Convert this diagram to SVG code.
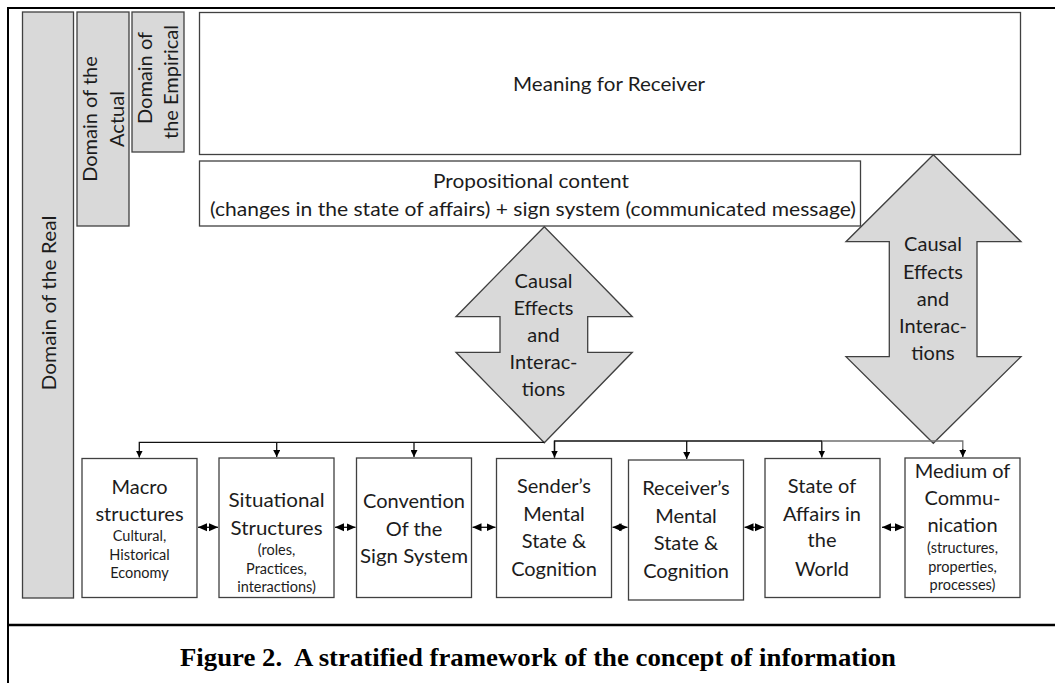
<svg xmlns="http://www.w3.org/2000/svg" width="1055" height="683" viewBox="0 0 1055 683">
<style>
.box{fill:#fff;stroke:#404040;stroke-width:1.3}
.gbox{fill:#d9d9d9;stroke:#404040;stroke-width:1.3}
.t{font-family:Lato,"Open Sans",sans-serif;font-size:20px;fill:#1c1c1c;text-anchor:middle}
.s{font-family:Lato,"Open Sans",sans-serif;font-size:14.5px;fill:#1c1c1c;text-anchor:middle}
.ln{fill:none;stroke:#111;stroke-width:1.3}
.frame{stroke:#000;fill:none}
</style>
<defs>
<marker id="ah" viewBox="0 0 10 10" refX="10" refY="5" markerWidth="7" markerHeight="7" markerUnits="userSpaceOnUse" orient="auto">
<path d="M0,0 L10,5 L0,10 z" fill="#000"/>
</marker>
<marker id="dh" viewBox="0 0 10 10" refX="10" refY="5" markerWidth="9" markerHeight="9" markerUnits="userSpaceOnUse" orient="auto">
<path d="M0,0.5 L10,5 L0,9.5 z" fill="#000"/>
</marker>
<marker id="dhs" viewBox="0 0 10 10" refX="10" refY="5" markerWidth="9" markerHeight="9" markerUnits="userSpaceOnUse" orient="auto-start-reverse">
<path d="M0,0.5 L10,5 L0,9.5 z" fill="#000"/>
</marker>
</defs>
<rect x="0" y="0" width="1055" height="683" fill="#fff"/>
<g id="frame">
<line class="frame" x1="8" y1="8" x2="1055" y2="8" stroke-width="2"/>
<line class="frame" x1="8" y1="7" x2="8" y2="683" stroke-width="2"/>
<line class="frame" x1="8" y1="625" x2="1055" y2="625" stroke-width="2.5"/>
</g>
<g id="domain-real">
<rect class="gbox" x="22.5" y="12" width="51" height="586"/>
<text class="t" transform="translate(56,303) rotate(-90)" textLength="175" lengthAdjust="spacingAndGlyphs">Domain of the Real</text>
</g>
<g id="domain-actual">
<rect class="gbox" x="77" y="12" width="52" height="214"/>
<text class="t" transform="translate(97,119) rotate(-90)">Domain of the</text>
<text class="t" transform="translate(124,119) rotate(-90)">Actual</text>
</g>
<g id="domain-empirical">
<rect class="gbox" x="132" y="12" width="52" height="140"/>
<text class="t" transform="translate(152,78) rotate(-90)">Domain of</text>
<text class="t" transform="translate(178,82) rotate(-90)">the Empirical</text>
</g>
<g id="meaning">
<rect class="box" x="199.5" y="12.5" width="821" height="142"/>
<text class="t" x="609" y="91" textLength="192" lengthAdjust="spacingAndGlyphs">Meaning for Receiver</text>
</g>
<g id="propositional">
<rect class="box" x="199.5" y="161" width="661" height="65"/>
<text class="t" x="531" y="188" textLength="196" lengthAdjust="spacingAndGlyphs">Propositional content</text>
<text class="t" x="533" y="216" textLength="646" lengthAdjust="spacingAndGlyphs">(changes in the state of affairs) + sign system (communicated message)</text>
</g>
<g id="causal-left">
<path class="gbox" d="M544.3,226.7 L632.3,316.7 L587.7,316.7 L587.7,352.3 L632.3,352.3 L544.3,442.7 L456,352.3 L500,352.3 L500,316.7 L456,316.7 Z"/>
<text class="t" x="543.5" y="288">Causal</text>
<text class="t" x="543.5" y="315">Effects</text>
<text class="t" x="543.5" y="342">and</text>
<text class="t" x="543.5" y="369">Interac-</text>
<text class="t" x="543.5" y="396">tions</text>
</g>
<g id="causal-right">
<path class="gbox" d="M933.3,154.7 L1021,241.7 L977,241.7 L977,356.7 L1021,356.7 L933.3,443.3 L846,356.7 L889.3,356.7 L889.3,241.7 L846,241.7 Z"/>
<text class="t" x="933" y="251">Causal</text>
<text class="t" x="933" y="279">Effects</text>
<text class="t" x="933" y="306">and</text>
<text class="t" x="933" y="333">Interac-</text>
<text class="t" x="933" y="360">tions</text>
</g>
<g id="macro">
<rect class="box" x="82" y="458.5" width="115" height="139"/>
<text class="t" x="139.5" y="494">Macro</text>
<text class="t" x="139.5" y="521">structures</text>
<text class="s" x="139.5" y="541">Cultural,</text>
<text class="s" x="139.5" y="560">Historical</text>
<text class="s" x="139.5" y="578">Economy</text>
</g>
<g id="situational">
<rect class="box" x="219" y="458" width="115" height="139.5"/>
<text class="t" x="276.5" y="507" textLength="96" lengthAdjust="spacingAndGlyphs">Situational</text>
<text class="t" x="276.5" y="535" textLength="92" lengthAdjust="spacingAndGlyphs">Structures</text>
<text class="s" x="276.5" y="555">(roles,</text>
<text class="s" x="276.5" y="574">Practices,</text>
<text class="s" x="276.5" y="592">interactions)</text>
</g>
<g id="convention">
<rect class="box" x="356.5" y="458" width="115" height="139.5"/>
<text class="t" x="414" y="508">Convention</text>
<text class="t" x="414" y="536">Of the</text>
<text class="t" x="414" y="563" textLength="108" lengthAdjust="spacingAndGlyphs">Sign System</text>
</g>
<g id="sender">
<rect class="box" x="496.5" y="458.5" width="115" height="139"/>
<text class="t" x="554" y="493">Sender’s</text>
<text class="t" x="554" y="521">Mental</text>
<text class="t" x="554" y="548">State &amp;</text>
<text class="t" x="554" y="576">Cognition</text>
</g>
<g id="receiver">
<rect class="box" x="628.5" y="460" width="115" height="140"/>
<text class="t" x="686" y="495">Receiver’s</text>
<text class="t" x="686" y="523">Mental</text>
<text class="t" x="686" y="550">State &amp;</text>
<text class="t" x="686" y="578">Cognition</text>
</g>
<g id="state-affairs">
<rect class="box" x="765" y="458.5" width="115" height="139"/>
<text class="t" x="822" y="493">State of</text>
<text class="t" x="822" y="521">Affairs in</text>
<text class="t" x="822" y="547">the</text>
<text class="t" x="822" y="576">World</text>
</g>
<g id="medium">
<rect class="box" x="905" y="458" width="115" height="139.5"/>
<text class="t" x="962.5" y="478">Medium of</text>
<text class="t" x="962.5" y="505">Commu-</text>
<text class="t" x="962.5" y="532">nication</text>
<text class="s" x="962.5" y="553">(structures,</text>
<text class="s" x="962.5" y="572">properties,</text>
<text class="s" x="962.5" y="590">processes)</text>
</g>
<g id="connectors">
<polyline class="ln" points="544.3,442.3 139.3,442.3 139.3,457.5" marker-end="url(#ah)"/>
<line class="ln" x1="276.7" y1="442.3" x2="276.7" y2="457" marker-end="url(#ah)"/>
<line class="ln" x1="414" y1="442.3" x2="414" y2="457" marker-end="url(#ah)"/>
<polyline class="ln" points="554.5,457.5 554.5,441 822,441"/>
<line class="ln" x1="554.5" y1="441" x2="554.5" y2="457.5" marker-end="url(#ah)"/>
<line class="ln" x1="686.7" y1="441" x2="686.7" y2="459" marker-end="url(#ah)"/>
<line class="ln" x1="821.8" y1="441" x2="821.8" y2="457.5" marker-end="url(#ah)"/>
<polyline fill="none" stroke="#707070" stroke-width="1.3" points="822,441 962.8,441 962.8,450"/>
<line class="ln" x1="962.8" y1="449" x2="962.8" y2="457" marker-end="url(#ah)"/>
<line class="ln" x1="198" y1="527.3" x2="218" y2="527.3" marker-start="url(#dhs)" marker-end="url(#dh)"/>
<line class="ln" x1="335" y1="527.3" x2="355.5" y2="527.3" marker-start="url(#dhs)" marker-end="url(#dh)"/>
<line class="ln" x1="472.5" y1="527.3" x2="495.5" y2="527.3" marker-start="url(#dhs)" marker-end="url(#dh)"/>
<line class="ln" x1="612.5" y1="527.3" x2="627.5" y2="527.3" marker-start="url(#dhs)" marker-end="url(#dh)"/>
<line class="ln" x1="744.5" y1="527.3" x2="764" y2="527.3" marker-start="url(#dhs)" marker-end="url(#dh)"/>
<line class="ln" x1="882" y1="527.3" x2="904" y2="527.3" marker-start="url(#dhs)" marker-end="url(#dh)"/>
</g>
<g id="caption">
<text x="538" y="666" xml:space="preserve" font-family="'Liberation Serif','Times New Roman',serif" font-weight="bold" font-size="25" fill="#000" text-anchor="middle" textLength="716" lengthAdjust="spacingAndGlyphs">Figure 2.  A stratified framework of the concept of information</text>
</g>
</svg>
